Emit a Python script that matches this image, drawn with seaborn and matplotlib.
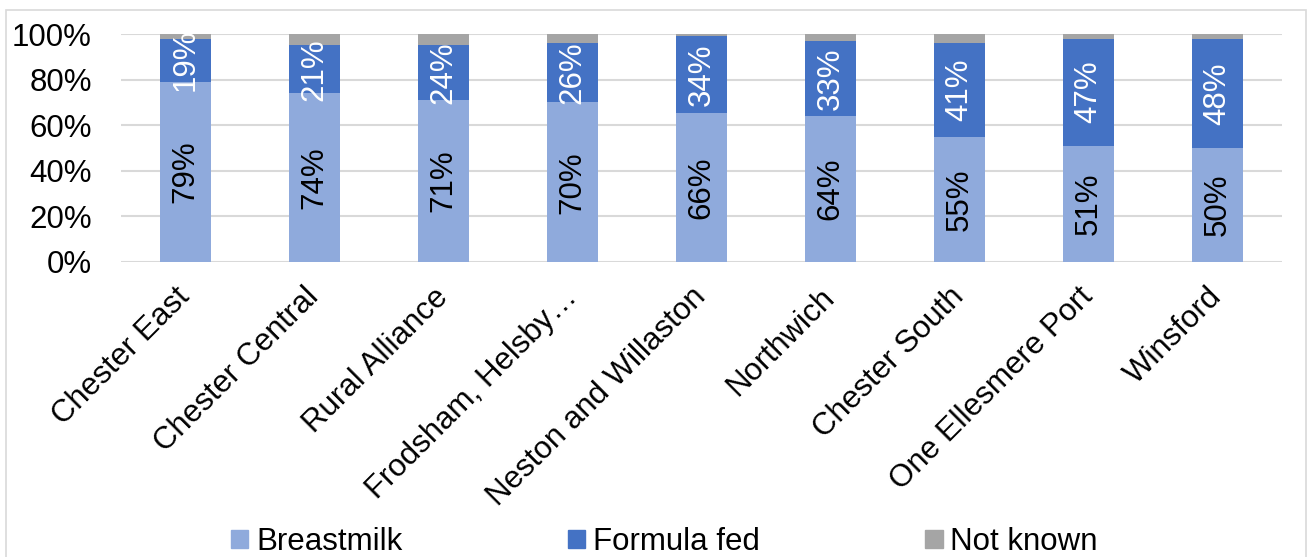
import matplotlib
matplotlib.use("Agg")
import matplotlib.pyplot as plt
from matplotlib.patches import Patch, Rectangle
import seaborn as sns
import numpy as np

categories = ["Chester East", "Chester Central", "Rural Alliance", "Frodsham, Helsby…",
              "Neston and Willaston", "Northwich", "Chester South", "One Ellesmere Port", "Winsford"]
breastmilk = [79, 74, 71, 70, 66, 64, 55, 51, 50]
formula_fed = [19, 21, 24, 26, 34, 33, 41, 47, 48]
not_known = [2, 5, 5, 4, 1, 3, 4, 2, 2]
y_ticks = [0, 20, 40, 60, 80, 100]

C_BREAST = "#8FAADC"
C_FORMULA = "#4472C4"
C_NK = "#A5A5A5"

sns.set_style("white")
plt.rcParams["font.family"] = ["Liberation Sans", "DejaVu Sans"]
plt.rcParams["text.color"] = "black"
plt.rcParams["xtick.color"] = "black"
plt.rcParams["ytick.color"] = "black"

bm = np.array(breastmilk, float)
ff = np.array(formula_fed, float)
nk = np.array(not_known, float)
total = bm + ff + nk
# 100% stacked shares
bm_s = bm / total * 100
ff_s = ff / total * 100
nk_s = nk / total * 100

fig = plt.figure(figsize=(13.09, 5.57), dpi=100)
ax = fig.add_axes([121 / 1309, 1 - 262 / 557, (1282 - 121) / 1309, 228 / 557])

# overlapped cumulative bars give the stacked look
bar_kw = dict(width=0.4, saturation=1, order=categories, ax=ax, zorder=3, linewidth=0,
              edgecolor="none")
sns.barplot(x=categories, y=bm_s + ff_s + nk_s, color=C_NK, **bar_kw)
sns.barplot(x=categories, y=bm_s + ff_s, color=C_FORMULA, **bar_kw)
sns.barplot(x=categories, y=bm_s, color=C_BREAST, **bar_kw)

fs = 22.5
for i in range(len(categories)):
    ax.text(i, bm_s[i] / 2, f"{breastmilk[i]}%", rotation=90, ha="center", va="center",
            fontsize=fs, color="black", zorder=5)
    ax.text(i, bm_s[i] + ff_s[i] / 2, f"{formula_fed[i]}%", rotation=90, ha="center",
            va="center", fontsize=fs, color="white", zorder=5)

ax.set_ylim(0, 100)
ax.set_xlim(-0.5, len(categories) - 0.5)
ax.set_yticks(y_ticks)
ax.set_yticklabels([f"{t}%" for t in y_ticks], fontsize=fs)
ax.yaxis.grid(True, color="#D9D9D9", linewidth=1.5, zorder=0)
ax.set_axisbelow(True)
ax.tick_params(axis="both", length=0)
ax.tick_params(axis="y", pad=21)
ax.set_xticks(range(len(categories)))
ax.set_xticklabels(categories, rotation=45, ha="right", va="center", rotation_mode="anchor",
                   fontsize=fs)
ax.tick_params(axis="x", pad=22)
ax.set_xlabel("")
ax.set_ylabel("")
for s in ax.spines.values():
    s.set_visible(False)

handles = [Patch(color=C_BREAST, label="Breastmilk"),
           Patch(color=C_FORMULA, label="Formula fed"),
           Patch(color=C_NK, label="Not known")]
fig.legend(handles=handles, loc="center", bbox_to_anchor=(0.5 + 10 / 1309, 1 - 542 / 557),
           ncol=3, frameon=False, fontsize=fs, handlelength=0.55, handleheight=0.55,
           handletextpad=0.25, columnspacing=5.3, borderaxespad=0)

fig.patches.append(Rectangle((6 / 1309, -0.05), 1300 / 1309, 1 - 10 / 557 + 0.05,
                             transform=fig.transFigure, fill=False,
                             edgecolor="#D9D9D9", linewidth=1.2))

fig.savefig("out.png", dpi=100)
